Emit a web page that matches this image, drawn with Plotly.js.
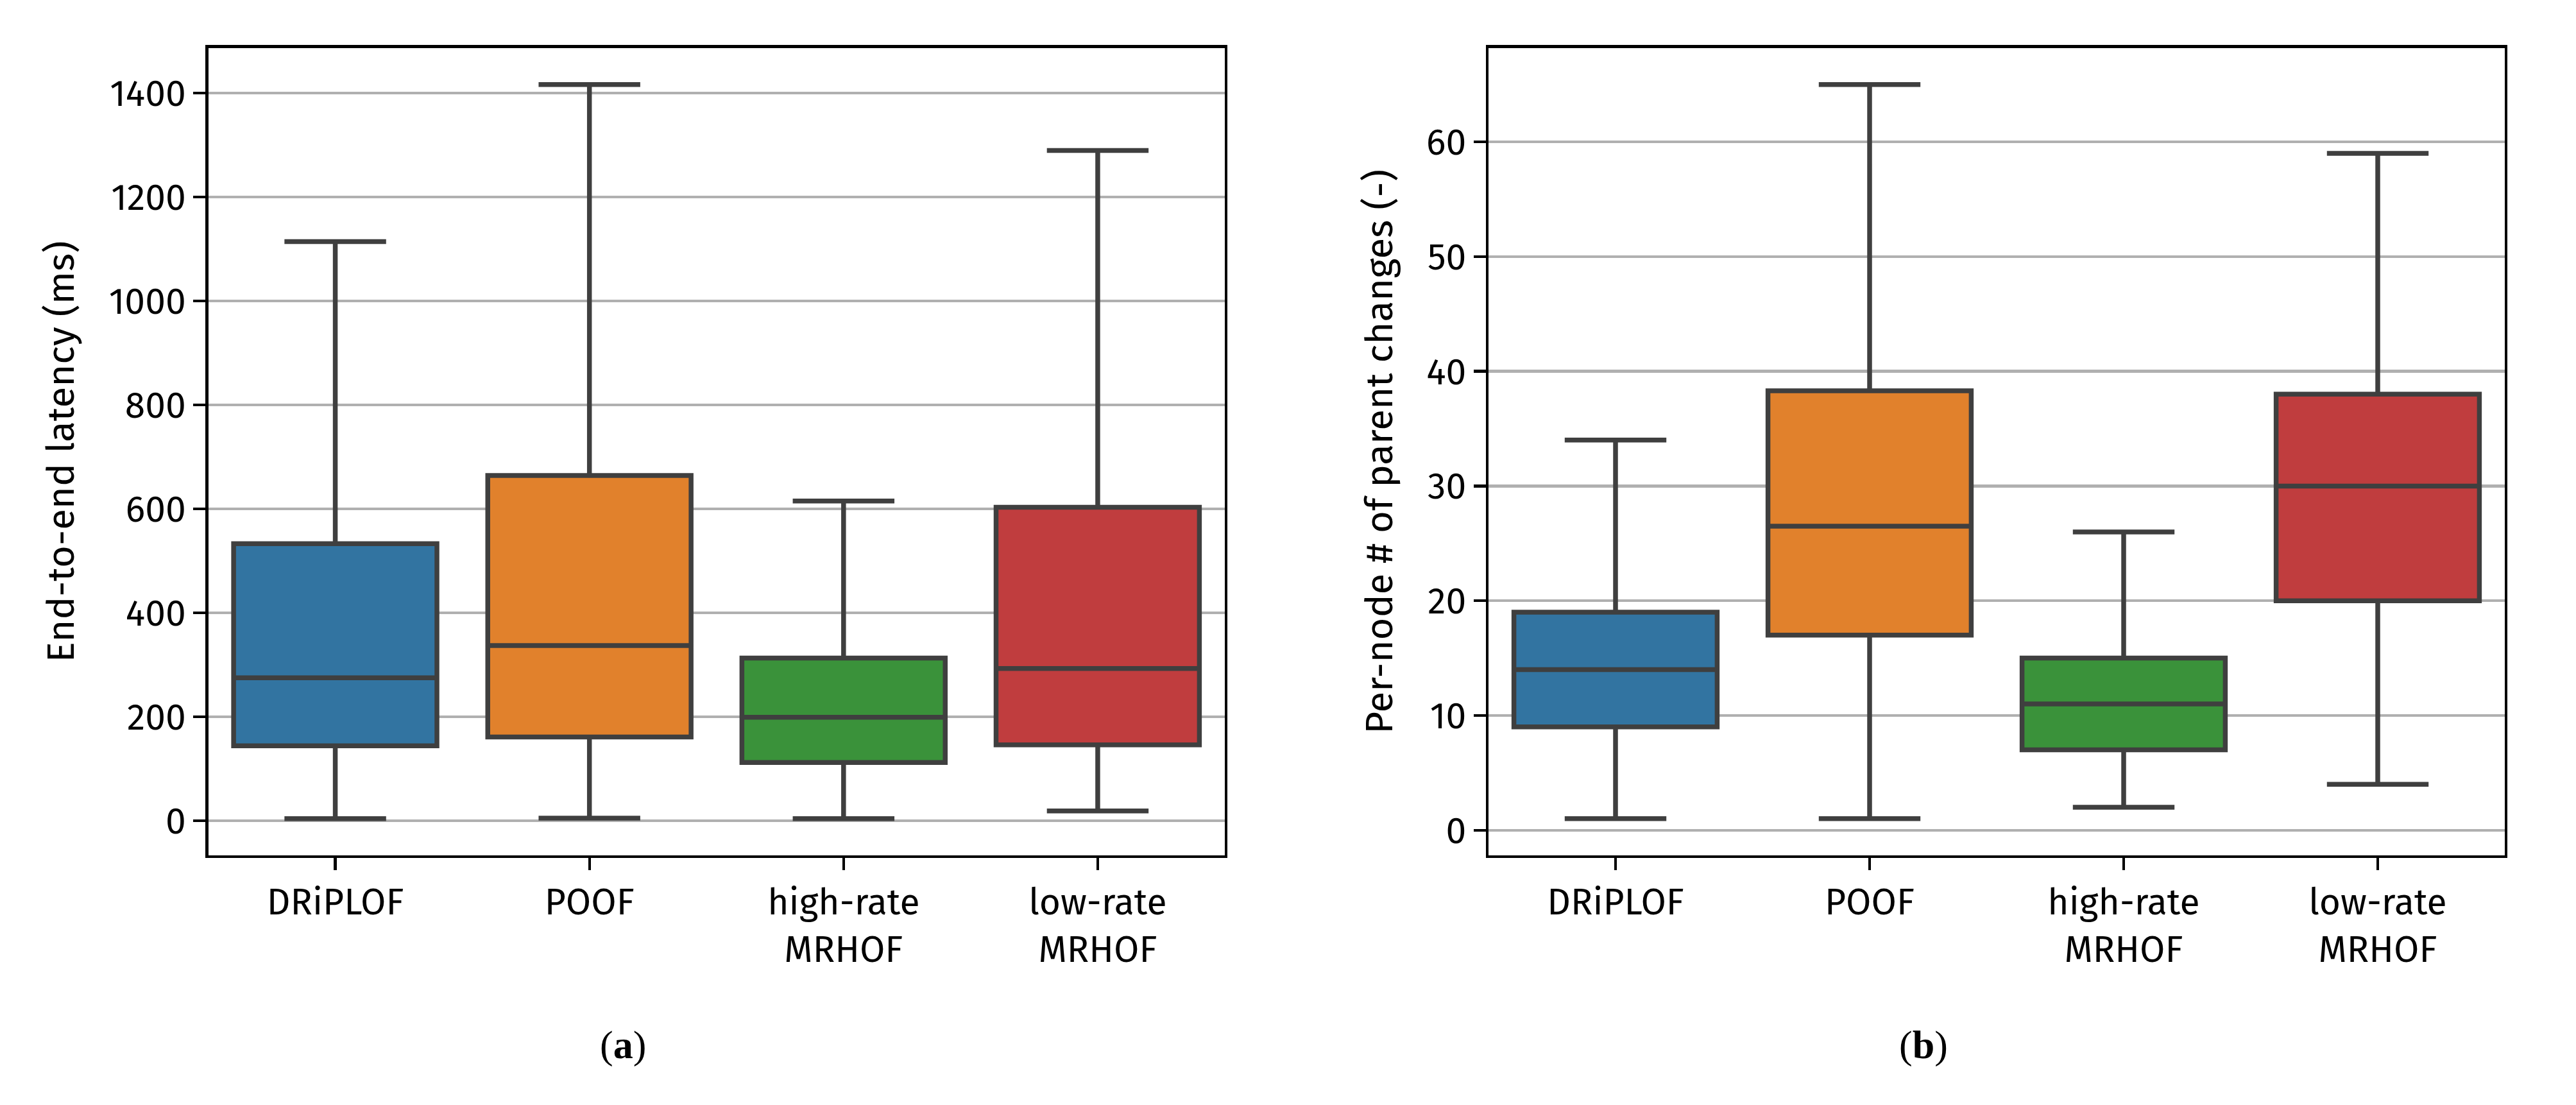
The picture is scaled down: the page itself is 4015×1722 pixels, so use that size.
<!DOCTYPE html>
<html>
<head>
<meta charset="utf-8">
<script src="https://cdn.plot.ly/plotly-3.0.1.min.js"></script>
<style>
  html, body { margin: 0; padding: 0; background: #ffffff; }
  #chart { width: 4015px; height: 1722px; }
</style>
</head>
<body>
<div id="chart"></div>
<script>
// ---- data ----
const categories = ['DRiPLOF', 'POOF', 'high-rate MRHOF', 'low-rate MRHOF'];
const tickLabels = ['DRiPLOF', 'POOF', 'high-rate<br>MRHOF', 'low-rate<br>MRHOF'];
const boxColors = ['#3274a1', '#e1812c', '#3a923a', '#c03d3e'];

// (a) End-to-end latency (ms)
const latLower  = [4, 5, 4, 19];
const latQ1     = [144, 161, 112, 146];
const latMedian = [275, 337, 199, 293];
const latQ3     = [533, 664, 313, 603];
const latUpper  = [1114, 1416, 615, 1289];
const latTicks  = [0, 200, 400, 600, 800, 1000, 1200, 1400];

// (b) Per-node # of parent changes (-)
const pcLower  = [1, 1, 2, 4];
const pcQ1     = [9, 17, 7, 20];
const pcMedian = [14, 26.5, 11, 30];
const pcQ3     = [19, 38.3, 15, 38];
const pcUpper  = [34, 65, 26, 59];
const pcTicks  = [0, 10, 20, 30, 40, 50, 60];

const panelLabels = ['(<b>a</b>)', '(<b>b</b>)'];
const yTitles = ['End-to-end latency (ms)', 'Per-node # of parent changes (-)'];

// ---- styling ----
const LINE = '#3f3f3f';
const FONT = '"Fira Sans", "Open Sans", "Noto Sans", sans-serif';

function boxTraces(lower, q1, med, q3, upper, xa, ya) {
  return categories.map((c, i) => ({
    type: 'box',
    x: [c],
    lowerfence: [lower[i]],
    q1: [q1[i]],
    median: [med[i]],
    q3: [q3[i]],
    upperfence: [upper[i]],
    width: 0.8,
    fillcolor: boxColors[i],
    line: { color: LINE, width: 7.5 },
    whiskerwidth: 0.5,
    boxpoints: false,
    hoverinfo: 'skip',
    showlegend: false,
    xaxis: xa,
    yaxis: ya
  }));
}

const data = [
  ...boxTraces(latLower, latQ1, latMedian, latQ3, latUpper, 'x', 'y'),
  ...boxTraces(pcLower, pcQ1, pcMedian, pcQ3, pcUpper, 'x2', 'y2')
];

const W = 4015, H = 1722;
const yDom = [(H - 1333) / H, (H - 74.5) / H];

function xAxis(dom) {
  return {
    domain: dom,
    type: 'category',
    categoryorder: 'array',
    categoryarray: categories,
    tickvals: categories,
    ticktext: tickLabels,
    range: [-0.5, 3.5],
    showgrid: false,
    zeroline: false,
    showline: true,
    mirror: true,
    linecolor: '#000000',
    linewidth: 4.3,
    ticks: 'outside',
    ticklen: 19,
    tickwidth: 4.3,
    tickcolor: '#000000',
    tickfont: { family: FONT, size: 57, color: '#000000' },
    fixedrange: true
  };
}

function yAxis(range, ticks, title, anchor, standoff) {
  return {
    domain: yDom,
    anchor: anchor,
    range: range,
    tickmode: 'array',
    tickvals: ticks,
    ticktext: ticks.map(String),
    showgrid: true,
    gridcolor: '#b0b0b0',
    gridwidth: 4.3,
    zeroline: false,
    showline: true,
    mirror: true,
    linecolor: '#000000',
    linewidth: 4.3,
    ticks: 'outside',
    ticklen: 19,
    tickwidth: 4.3,
    tickcolor: '#000000',
    tickfont: { family: FONT, size: 57, color: '#000000' },
    title: { text: title, standoff: standoff, font: { family: FONT, size: 60, color: '#000000' } },
    fixedrange: true
  };
}

const layout = {
  width: W,
  height: H,
  margin: { l: 0, r: 0, t: 0, b: 0, pad: 0 },
  paper_bgcolor: '#ffffff',
  plot_bgcolor: '#ffffff',
  boxmode: 'overlay',
  boxgap: 0.2,
  showlegend: false,
  xaxis: Object.assign(xAxis([324.5 / W, 1909 / W]), { anchor: 'y' }),
  yaxis: yAxis([-66.6, 1486.6], latTicks, yTitles[0], 'x', 36),
  xaxis2: Object.assign(xAxis([2320 / W, 3904 / W]), { anchor: 'y2' }),
  yaxis2: yAxis([-2.2, 68.2], pcTicks, yTitles[1], 'x2', 34),
  annotations: [
    { text: panelLabels[0], xref: 'paper', yref: 'paper', x: 971 / W, y: (H - 1628) / H,
      xanchor: 'center', yanchor: 'middle', showarrow: false,
      font: { family: '"Liberation Serif", "DejaVu Serif", serif', size: 62, color: '#000000' } },
    { text: panelLabels[1], xref: 'paper', yref: 'paper', x: 2998 / W, y: (H - 1628) / H,
      xanchor: 'center', yanchor: 'middle', showarrow: false,
      font: { family: '"Liberation Serif", "DejaVu Serif", serif', size: 62, color: '#000000' } }
  ]
};

Plotly.newPlot('chart', data, layout, { displayModeBar: false, staticPlot: true });
</script>
</body>
</html>
